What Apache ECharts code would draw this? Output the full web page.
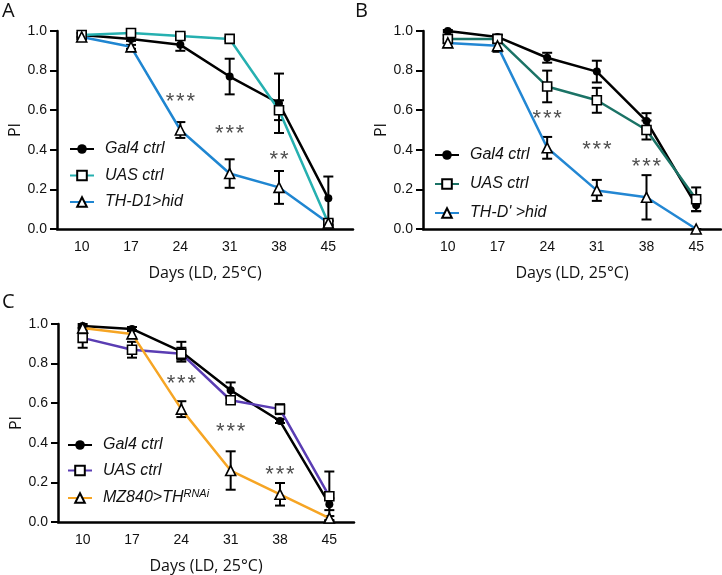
<!DOCTYPE html>
<html><head><meta charset="utf-8">
<script src="https://cdn.jsdelivr.net/npm/echarts@6/dist/echarts.min.js"></script>
<style>html,body{margin:0;padding:0;background:#fff}#c{width:722px;height:575px}</style>
</head><body><div id="c"></div>
<script>
const days = ['10','17','24','31','38','45'];
const yTicks = [0,0.2,0.4,0.6,0.8,1.0];

// Panel A
const A_gal4 = [0.98,0.96,0.93,0.77,0.635,0.155];
const A_gal4_err = [0.01,0.01,0.03,0.09,0.15,0.11];
const A_uas = [0.98,0.99,0.975,0.96,0.60,0.03];
const A_uas_err = [0.01,0.01,0.01,0.01,0.05,0.01];
const A_hid = [0.97,0.92,0.50,0.28,0.21,0.03];
const A_hid_err = [0.01,0.01,0.04,0.072,0.083,0.01];
const A_starPos = [2,3,4];
const A_starY = [0.67,0.51,0.38];
const A_starTxt = ['*\u200A*\u200A*','*\u200A*\u200A*','*\u200A*'];

// Panel B
const B_gal4 = [1.0,0.97,0.865,0.795,0.545,0.12];
const B_gal4_err = [0.005,0.01,0.025,0.055,0.04,0.03];
const B_uas = [0.96,0.96,0.72,0.65,0.50,0.15];
const B_uas_err = [0.02,0.02,0.08,0.063,0.048,0.06];
const B_hid = [0.94,0.925,0.41,0.195,0.16,0.0];
const B_hid_err = [0.02,0.03,0.055,0.053,0.112,0.0];
const B_starPos = [2,3,4];
const B_starY = [0.584,0.43,0.343];
const B_starTxt = ['*\u200A*\u200A*','*\u200A*\u200A*','*\u200A*\u200A*'];

// Panel C
const C_gal4 = [0.99,0.975,0.86,0.665,0.51,0.09];
const C_gal4_err = [0.01,0.01,0.05,0.04,0.01,0.03];
const C_uas = [0.93,0.87,0.85,0.615,0.57,0.13];
const C_uas_err = [0.05,0.04,0.03,0.015,0.025,0.125];
const C_mz = [0.98,0.95,0.57,0.26,0.14,0.02];
const C_mz_err = [0.01,0.02,0.04,0.097,0.057,0.01];
const C_starPos = [2,3,4];
const C_starY = [0.727,0.483,0.27];
const C_starTxt = ['*\u200A*\u200A*','*\u200A*\u200A*','*\u200A*\u200A*'];

const seriesNamesA = ['Gal4 ctrl','UAS ctrl','TH-D1>hid'];
const seriesNamesB = ['Gal4 ctrl','UAS ctrl',"TH-D' >hid"];
const seriesNamesC = ['Gal4 ctrl','UAS ctrl','MZ840>TH{sup|RNAi}'];

const chart = echarts.init(document.getElementById('c'), null, {renderer:'canvas'});

const grids = [
  {left:57, top:31, width:296, height:198},
  {left:423, top:31, width:298, height:198},
  {left:58, top:324, width:296, height:198}
];

function xAx(i){
  return {type:'category', gridIndex:i, data:days, boundaryGap:true,
    axisLine:{lineStyle:{color:'#000', width:2.5}},
    axisTick:{alignWithLabel:true, length:7, lineStyle:{color:'#000', width:2}},
    axisLabel:{color:'#111', fontSize:14, fontFamily:'Liberation Sans', margin:11},
    name:'Days (LD, 25°C)', nameLocation:'middle', nameGap:36,
    nameTextStyle:{fontSize:16, fontFamily:'Open Sans', color:'#111'}};
}
function yAx(i){
  return {type:'value', gridIndex:i, min:0, max:1, interval:0.2,
    axisLine:{show:true, lineStyle:{color:'#000', width:2.5}},
    axisTick:{show:true, length:7, lineStyle:{color:'#000', width:2}},
    splitLine:{show:false},
    axisLabel:{color:'#111', fontSize:14, fontFamily:'Liberation Sans', margin:10,
      formatter:v=>v.toFixed(1)},
    name:'PI', nameLocation:'middle', nameGap:29,
    nameTextStyle:{fontSize:16, fontFamily:'Open Sans', color:'#111'}};
}

const series = [];
const legends = [];

function errSeries(gi, vals, errs){
  return {type:'custom', xAxisIndex:gi, yAxisIndex:gi, z:1, silent:true,
    data: vals.map((v,k)=>[k, v, errs[k]]),
    renderItem:(params, api)=>{
      const x = api.value(0), y = api.value(1), e = api.value(2);
      const top = api.coord([x, y+e]);
      const bot = api.coord([x, y-e]);
      const hw = 5;
      const st = {stroke:'#000', lineWidth:2};
      return {type:'group', children:[
        {type:'line', shape:{x1:top[0], y1:top[1], x2:bot[0], y2:bot[1]}, style:st},
        {type:'line', shape:{x1:top[0]-hw, y1:top[1], x2:top[0]+hw, y2:top[1]}, style:st},
        {type:'line', shape:{x1:bot[0]-hw, y1:bot[1], x2:bot[0]+hw, y2:bot[1]}, style:st}
      ]};
    }};
}

function lineSeries(gi, name, vals, color, symbol, size){
  return {type:'line', name:name, xAxisIndex:gi, yAxisIndex:gi, z:3,
    data: vals, symbol:symbol, symbolSize:size, showAllSymbol:true,
    lineStyle:{color:color, width:2.5},
    itemStyle: symbol==='circle' ? {color:'#000', borderColor:'#000', borderWidth:0}
                                 : {color:'#fff', borderColor:'#000', borderWidth:1.6},
    emphasis:{disabled:true}, animation:false};
}

function starSeries(gi, pos, ys, txt){
  return {type:'scatter', xAxisIndex:gi, yAxisIndex:gi, z:4, symbolSize:0, silent:true,
    data: pos.map((p,k)=>({value:[p, ys[k]], label:{formatter:txt[k]}})),
    label:{show:true, position:'inside', fontSize:22, fontFamily:'Liberation Sans', color:'#222', offset:[0,6]},
    animation:false};
}

function panel(gi, prefix, names, vals, errs, colors, legendPos){
  const symbols = ['circle','rect','triangle'];
  const sizes = [8,9,10];
  for (let k=0;k<3;k++) series.push(errSeries(gi, vals[k], errs[k]));
  const fullNames = names.map(n=>prefix+'|'+n);
  for (let k=0;k<3;k++) series.push(lineSeries(gi, fullNames[k], vals[k], colors[k], symbols[k], sizes[k]));
  legends.push({
    data: fullNames, orient:'vertical', left:legendPos.left, top:legendPos.top,
    itemWidth:24, itemHeight:12, itemGap:legendPos.gap, selectedMode:false,
    formatter: n=>n.slice(2),
    textStyle:{fontSize:16, fontStyle:'italic', fontFamily:'Liberation Sans', color:'#111', padding:[0,0,0,6],
      rich:{sup:{fontSize:11, fontStyle:'italic', fontFamily:'Liberation Sans', color:'#111', padding:[0,0,9,0]}}}
  });
}

panel(0,'A',seriesNamesA,[A_gal4,A_uas,A_hid],[A_gal4_err,A_uas_err,A_hid_err],['#000','#26b0b0','#1f86d1'],{left:64,top:136,gap:10.5});
panel(1,'B',seriesNamesB,[B_gal4,B_uas,B_hid],[B_gal4_err,B_uas_err,B_hid_err],['#000','#1b7366','#2387d3'],{left:429,top:142,gap:13});
panel(2,'C',seriesNamesC,[C_gal4,C_uas,C_mz],[C_gal4_err,C_uas_err,C_mz_err],['#000','#5a3db3','#f6a524'],{left:62,top:432,gap:9.5});

series.push(starSeries(0, A_starPos, A_starY, A_starTxt));
series.push(starSeries(1, B_starPos, B_starY, B_starTxt));
series.push(starSeries(2, C_starPos, C_starY, C_starTxt));

chart.setOption({
  animation:false,
  backgroundColor:'#fff',
  grid: grids.map(g=>Object.assign({outerBoundsMode:'none', containLabel:false}, g)),
  xAxis:[xAx(0),xAx(1),xAx(2)],
  yAxis:[yAx(0),yAx(1),yAx(2)],
  legend: legends,
  series: series,
  graphic:[
    {type:'text', left:2, top:1, style:{text:'A', fontSize:20, fontFamily:'Open Sans', fill:'#111'}},
    {type:'text', left:355, top:1, style:{text:'B', fontSize:20, fontFamily:'Open Sans', fill:'#111'}},
    {type:'text', left:2, top:292, style:{text:'C', fontSize:20, fontFamily:'Open Sans', fill:'#111'}}
  ]
});
</script></body></html>
